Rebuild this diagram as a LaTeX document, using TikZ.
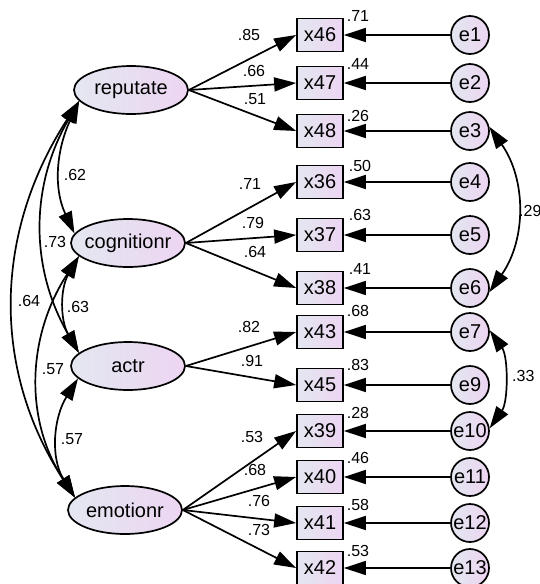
\documentclass[tikz,border=0pt]{standalone}
\usepackage{fontspec}
\setmainfont{Liberation Sans}
\usetikzlibrary{arrows.meta,shapes.geometric}
\definecolor{gl}{RGB}{227,231,240}
\definecolor{gr}{RGB}{237,213,242}
\begin{document}
\begin{tikzpicture}[x=1pt,y=1pt,
  txt/.style={font=\fontsize{20}{24}\selectfont},
  lat/.style={txt,ellipse,draw,line width=1.7pt,minimum width=114pt,minimum height=48pt,inner xsep=-6pt,inner ysep=0pt,left color=gl,right color=gr},
  obs/.style={txt,rectangle,draw,line width=1.7pt,minimum width=46pt,minimum height=33pt,inner sep=0pt,left color=gl,right color=gr},
  err/.style={txt,circle,draw,line width=1.7pt,minimum size=38pt,inner sep=-4pt,left color=gl,right color=gr},
  lbl/.style={font=\fontsize{16}{18}\selectfont,inner sep=0pt},
  tipx/.tip={Triangle[length=22pt,width=14pt]},
  arr/.style={line width=1.7pt,-tipx},
  cov/.style={line width=1.7pt,tipx-tipx},
]
\useasboundingbox (0,0) rectangle (540,-584);
\clip (0,0) rectangle (540,-584);
% latent variables
\node[lat] (rep) at (131,-90) {reputate};
\node[lat] (cog) at (128,-243) {cognitionr};
\node[lat] (act) at (128,-366) {actr};
\node[lat] (emo) at (125,-510) {emotionr};
% observed
\foreach \n/\y in {46/35,47/83,48/131,36/182,37/235,38/288,43/332,45/385,39/431,40/477,41/523,42/568}{
  \node[obs] (x\n) at (320,-\y) {x\n};
}
% errors
\foreach \n/\y in {1/35,2/83,3/131,4/182,5/235,6/288,7/332,9/385,10/431,11/477,12/523,13/568}{
  \node[err] (e\n) at (470,-\y) {e\n};
}
% loadings
\draw[arr] (rep.east) -- (x46.west);
\draw[arr] (rep.east) -- (x47.west);
\draw[arr] (rep.east) -- (x48.west);
\draw[arr] (cog.east) -- (x36.west);
\draw[arr] (cog.east) -- (x37.west);
\draw[arr] (cog.east) -- (x38.west);
\draw[arr] (act.east) -- (x43.west);
\draw[arr] (act.east) -- (x45.west);
\draw[arr] (emo.east) -- (x39.west);
\draw[arr] (emo.east) -- (x40.west);
\draw[arr] (emo.east) -- (x41.west);
\draw[arr] (emo.east) -- (x42.west);
% error paths
\foreach \e/\x in {1/46,2/47,3/48,4/36,5/37,6/38,7/43,9/45,10/39,11/40,12/41,13/42}{
  \draw[arr] (e\e) -- (x\x);
}
% error covariances
\draw[cov] (e3.12) to[out=-55,in=55] (e6.-12);
\draw[cov] (e7.5) to[out=-55,in=55,looseness=0.85] (e10.8);
% latent covariances
\draw[cov] (rep.192) to[out=245,in=115] (cog.170);
\draw[cov] (rep.192) to[out=240,in=120] (act.165);
\draw[cov] (rep.192) to[out=237,in=123] (emo.166);
\draw[cov] (cog.195) to[out=240,in=120] (act.165);
\draw[cov] (cog.195) to[out=237,in=123] (emo.166);
\draw[cov] (act.194) to[out=238,in=122] (emo.166);
% loading labels
\node[lbl] (l1) at (249,-35) {.85};
\node[lbl] (l2) at (254,-71) {.66};
\node[lbl] (l3) at (255,-99) {.51};
\node[lbl] (l4) at (250,-184) {.71};
\node[lbl] (l5) at (253,-223) {.79};
\node[lbl] (l6) at (255,-252) {.64};
\node[lbl] (l7) at (249,-327) {.82};
\node[lbl] (l8) at (252,-361) {.91};
\node[lbl] (l9) at (252,-437) {.53};
\node[lbl] (l10) at (255,-470) {.68};
\node[lbl] (l11) at (259,-501) {.76};
\node[lbl] (l12) at (259,-530) {.73};
% R2 labels
\node[lbl] (r1) at (358,-16) {.71};
\node[lbl] (r2) at (358,-64) {.44};
\node[lbl] (r3) at (358,-116) {.26};
\node[lbl] (r4) at (360,-166) {.50};
\node[lbl] (r5) at (360,-215) {.63};
\node[lbl] (r6) at (360,-269) {.41};
\node[lbl] (r7) at (358,-311) {.68};
\node[lbl] (r8) at (358,-365) {.83};
\node[lbl] (r9) at (358,-413) {.28};
\node[lbl] (r10) at (358,-458) {.46};
\node[lbl] (r11) at (358,-505) {.58};
\node[lbl] (r12) at (358,-551) {.53};
% covariance labels
\node[lbl,anchor=west] (c1) at (519,-211) {.29};
\node[lbl,anchor=west] (c2) at (512,-376) {.33};
\node[lbl] (c3) at (75,-175) {.62};
\node[lbl] (c4) at (55,-242) {.73};
\node[lbl] (c5) at (29,-301) {.64};
\node[lbl] (c6) at (78,-307) {.63};
\node[lbl] (c7) at (53,-369) {.57};
\node[lbl] (c8) at (72,-439) {.57};
\end{tikzpicture}
\end{document}
